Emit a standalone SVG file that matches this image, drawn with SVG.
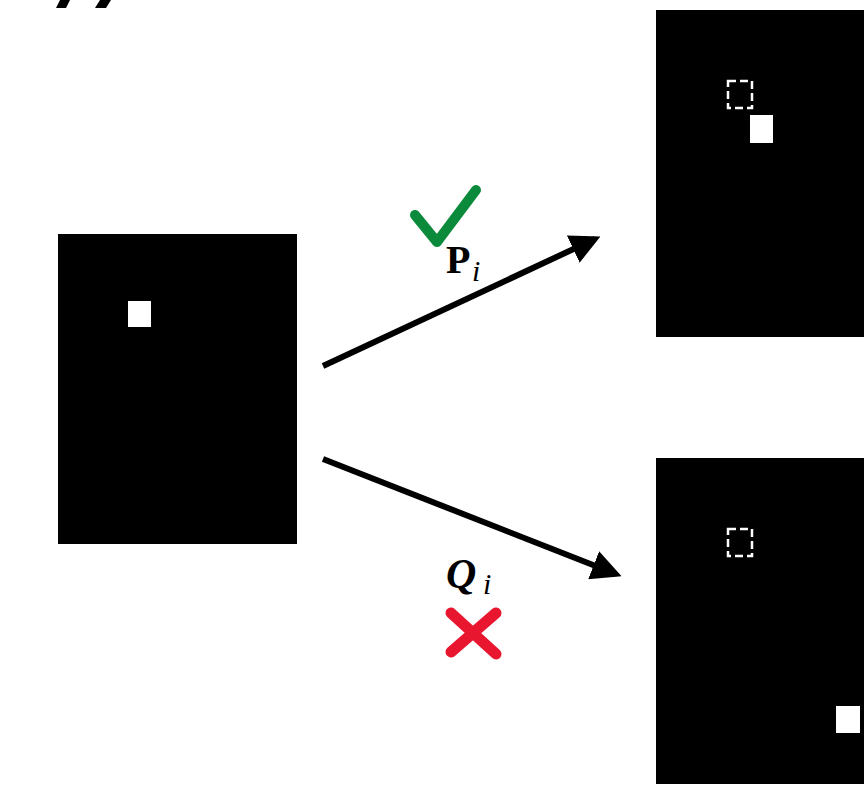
<svg xmlns="http://www.w3.org/2000/svg" width="864" height="791" viewBox="0 0 864 791">
<style>
.panel{fill:#000}
.sq{fill:#fff}
.dash{fill:none;stroke:#fff;stroke-width:2.5;stroke-dasharray:8,4}
.conn{stroke:#000;stroke-width:6;fill:none}
.lbl{font-family:"Liberation Serif","DejaVu Serif",serif;fill:#000}
</style>
<defs>
<marker id="ah" markerWidth="5" markerHeight="5" refX="4" refY="2.5" orient="auto" markerUnits="strokeWidth">
<path d="M0,0 L5,2.5 L0,5 Z" fill="#000"/>
</marker>
</defs>
<rect width="864" height="791" fill="#fff"/>
<g id="fragment">
<polygon points="56,8 66,8 70,0 60,0" fill="#000"/>
<polygon points="95,8 106,8 111,0 100,0" fill="#000"/>
</g>
<g id="source">
<rect class="panel" x="58" y="234" width="239" height="310"/>
<rect class="sq" x="128" y="301" width="23" height="26"/>
</g>
<g id="targetP">
<rect class="panel" x="656" y="10" width="208" height="327"/>
<rect class="dash" x="728" y="81" width="24" height="27"/>
<rect class="sq" x="750" y="115" width="23" height="28"/>
</g>
<g id="targetQ">
<rect class="panel" x="656" y="458" width="208" height="326"/>
<rect class="dash" x="728" y="529" width="24" height="27"/>
<rect class="sq" x="836" y="706" width="24" height="27"/>
</g>
<g id="connectors">
<line class="conn" x1="323" y1="366" x2="595" y2="239" marker-end="url(#ah)"/>
<line class="conn" x1="323" y1="459" x2="616" y2="574" marker-end="url(#ah)"/>
</g>
<g id="labelP">
<path d="M415,215 L437,242 L476,190" fill="none" stroke="#0b8a3c" stroke-width="10" stroke-linecap="round" stroke-linejoin="round"/>
<text class="lbl" x="446" y="273" font-size="40" font-weight="bold">P</text>
<text class="lbl" x="472" y="281" font-size="30" font-style="italic">i</text>
</g>
<g id="labelQ">
<text class="lbl" x="446" y="588" font-size="42" font-weight="bold" font-style="italic">Q</text>
<text class="lbl" x="483" y="594" font-size="30" font-style="italic">i</text>
<path d="M451,613 L496,654 M496,613 L451,652" fill="none" stroke="#e8162e" stroke-width="11" stroke-linecap="round"/>
</g>
</svg>
